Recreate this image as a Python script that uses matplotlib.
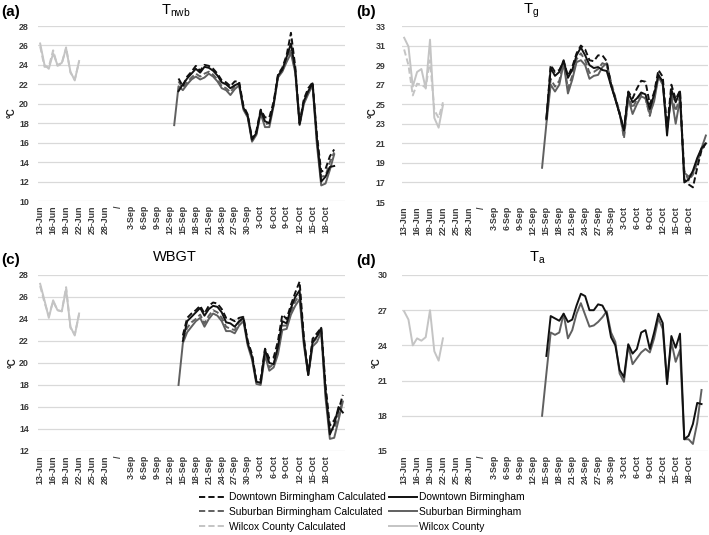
import matplotlib.pyplot as plt
import numpy as np
import pandas as pd

plt.rcParams['font.family'] = ['Liberation Sans', 'DejaVu Sans']
plt.rcParams['mathtext.default'] = 'regular'

# category axis: 13-Jun..30-Jun, a "/" break, 1-Sep..22-Oct
jun = pd.date_range('2019-06-13', '2019-06-30')
sep_oct = pd.date_range('2019-09-01', '2019-10-22')
days = [f'{d.day}-{d:%b}' for d in jun] + ['/'] + [f'{d.day}-{d:%b}' for d in sep_oct]

# ---- (a) Tnwb ----
a_wil = [26.2, 24.0, 23.6, 25.2, 24.0, 24.2, 25.7, 23.3, 22.4, 24.4]
a_wil_calc = [25.9, 23.8, 23.8, 25.5, 23.9, 24.1, 25.8, 23.2, 22.5, 24.3]
# from 13-Sep
a_dt = [None, 21.3, 22.0, 22.6, 23.1, 23.6, 23.2, 23.8, 23.7, 23.4, 22.9,
        22.2, 22.0, 21.6, 21.9, 22.1, 19.6, 18.8, 16.3, 17.0, 19.3,
        18.2, 18.0, 20.0, 22.9, 23.5, 24.8, 26.2, 23.5, 17.9, 20.3,
        21.3, 22.1, 16.5, 12.0, 12.5, 13.5, 13.6]
a_dt_calc = [None, 22.6, 21.8, 22.8, 23.3, 23.9, 23.4, 24.0, 23.9, 23.6, 23.1,
             22.4, 22.2, 21.8, 22.3, 22.3, 19.8, 18.9, 16.4, 17.2, 19.4,
             18.6, 18.6, 20.2, 23.0, 23.7, 25.0, 27.3, 23.8, 18.0, 20.5,
             21.6, 22.2, 16.8, 13.0, 13.3, 14.6, 15.3]
a_sub = [17.8, 21.8, 21.4, 22.0, 22.5, 22.8, 22.5, 22.7, 23.1, 22.8, 22.3,
         21.6, 21.4, 20.9, 21.5, 21.9, 19.4, 18.6, 16.1, 16.8, 19.0,
         17.6, 17.6, 19.8, 22.7, 23.3, 24.3, 25.2, 23.2, 17.8, 20.0,
         21.0, 21.9, 15.8, 11.6, 11.8, 13.2, 14.8]
a_sub_calc = [None, 22.3, 21.6, 22.2, 22.7, 23.1, 22.8, 23.1, 23.3, 23.0, 22.5,
              21.8, 21.6, 21.2, 21.8, 22.0, 19.5, 18.7, 16.2, 16.9, 19.1,
              17.9, 18.0, 19.9, 22.8, 23.4, 24.5, 25.6, 23.3, 17.9, 20.2,
              21.2, 22.0, 16.2, 12.5, 12.6, 14.0, 15.0]

# ---- (b) Tg ---- (Birmingham from 14-Sep)
b_wil = [31.8, 30.9, 26.8, 28.3, 28.6, 26.6, 31.6, 23.6, 22.6, 24.9]
b_wil_calc = [30.6, 29.0, 25.9, 27.1, 27.0, 26.7, 29.5, 24.4, 23.6, 25.2]
b_dt = [None, 23.5, 28.7, 27.9, 28.3, 29.5, 27.7, 28.5, 30.0, 30.8,
        30.0, 29.0, 28.7, 28.8, 28.5, 28.4, 26.9, 25.5, 24.0, 22.3,
        26.2, 25.2, 25.6, 26.2, 26.0, 24.5, 26.0, 28.0, 27.3, 21.8,
        26.5, 25.2, 26.3, 17.0, 17.3, 18.2, 19.5, 20.5, 21.0]
b_dt_calc = [None, 23.5, 29.0, 28.3, 28.5, 29.4, 27.9, 28.8, 30.2, 31.0,
             30.6, 29.5, 29.4, 30.0, 30.0, 29.4, 27.0, 25.6, 24.0, 22.5,
             26.3, 25.6, 26.6, 27.4, 27.3, 25.0, 26.2, 28.5, 27.8, 22.5,
             27.0, 25.5, 26.4, 17.3, 16.8, 16.5, 18.5, 20.3, 21.0]
b_sub = [18.5, 23.0, 27.0, 26.3, 27.0, 29.2, 26.1, 27.5, 29.3, 29.5,
         29.0, 27.6, 27.9, 28.0, 28.8, 29.2, 27.0, 25.5, 24.0, 21.8,
         25.6, 24.0, 25.0, 25.8, 25.6, 24.0, 25.3, 27.8, 27.0, 22.5,
         25.8, 23.0, 25.5, 18.0, 17.6, 18.0, 19.2, 20.5, 21.8]
b_sub_calc = [None, 23.3, 27.6, 26.8, 27.4, 29.3, 26.6, 27.9, 29.6, 30.2,
              29.5, 28.2, 28.3, 28.6, 29.2, 29.0, 27.3, 25.7, 24.2, 21.5,
              25.8, 24.6, 25.5, 26.0, 25.6, 23.8, 25.6, 28.0, 27.2, 22.6,
              26.0, 24.3, 25.8, 18.2, 17.2, 17.8, 19.0, 20.4, 20.8]

# ---- (c) WBGT ---- (Birmingham from 14-Sep)
c_wil = [27.2, 25.7, 24.1, 25.7, 24.8, 24.7, 26.7, 23.3, 22.5, 24.5]
c_wil_calc = [27.0, 25.5, 24.3, 25.6, 24.8, 24.7, 26.9, 23.2, 22.6, 24.4]
c_dt = [None, 22.0, 23.8, 24.2, 24.6, 25.0, 24.3, 24.9, 25.2, 25.1,
        24.6, 23.7, 23.6, 23.3, 23.8, 24.1, 21.8, 20.6, 18.3, 18.2,
        21.2, 20.0, 19.9, 21.5, 23.8, 23.6, 25.0, 26.0, 26.6, 22.0,
        18.9, 21.9, 22.4, 23.2, 17.5, 13.5, 14.4, 16.0, 15.5]
c_dt_calc = [None, 22.5, 24.1, 24.5, 24.8, 25.2, 24.5, 25.2, 25.5, 25.4,
             24.9, 24.1, 24.0, 23.8, 24.1, 24.2, 22.0, 20.8, 18.4, 18.5,
             21.3, 20.4, 20.5, 22.0, 24.4, 24.0, 25.3, 26.4, 27.4, 22.3,
             19.0, 22.2, 22.7, 23.2, 18.0, 14.3, 14.8, 15.7, 17.1]
c_sub = [18.0, 21.8, 22.8, 23.3, 23.8, 24.1, 23.3, 24.0, 24.5, 24.3,
         23.8, 22.9, 22.9, 22.7, 23.4, 23.8, 21.6, 20.3, 18.1, 18.0,
         20.7, 19.3, 19.6, 20.8, 23.0, 23.1, 24.4, 25.2, 25.8, 21.6,
         18.9, 21.5, 21.9, 22.8, 16.8, 13.1, 13.2, 14.8, 16.5]
c_sub_calc = [None, 22.2, 23.2, 23.7, 24.0, 24.4, 23.6, 24.3, 24.8, 24.6,
              24.1, 23.3, 23.1, 23.0, 23.7, 24.0, 21.9, 20.6, 18.3, 18.2,
              21.0, 19.6, 19.9, 21.2, 23.4, 23.4, 24.6, 25.6, 26.2, 21.8,
              19.0, 21.8, 22.3, 22.9, 17.2, 13.9, 14.0, 15.3, 16.6]

# ---- (d) Ta ---- (Birmingham from 14-Sep, measured only)
d_wil = [26.9, 26.2, 24.0, 24.6, 24.4, 24.7, 27.0, 23.5, 22.7, 24.6]
d_dt = [None, 23.1, 26.5, 26.3, 26.1, 26.7, 26.0, 26.2, 27.4, 28.4,
        28.2, 27.0, 27.0, 27.5, 27.4, 26.7, 24.7, 24.0, 21.9, 21.3,
        24.1, 23.3, 23.7, 25.1, 25.3, 23.7, 25.1, 26.7, 25.9, 20.7,
        24.8, 23.8, 25.0, 16.0, 16.3, 17.3, 19.1, 19.0]
d_sub = [18.0, 21.6, 25.1, 24.9, 25.1, 26.7, 24.6, 25.3, 26.7, 27.6,
         26.6, 25.6, 25.7, 26.0, 26.4, 26.9, 25.1, 24.3, 21.6, 20.9,
         24.0, 22.4, 22.9, 23.4, 23.7, 23.4, 24.6, 26.3, 25.4, 20.9,
         24.3, 22.6, 23.6, 16.0, 16.0, 15.6, 17.4, 20.2]

W, H = 709, 535
fig = plt.figure(figsize=(W / 100, H / 100), dpi=100)


def px(x, y):
    return x / W, 1 - y / H


def axes_px(x0, y0, x1, y1):
    return fig.add_axes([x0 / W, 1 - y1 / H, (x1 - x0) / W, (y1 - y0) / H])


dash = (0, (3.2, 1.6))
st = {
    'dt_calc': dict(color='#111111', ls=dash, lw=1.4),
    'dt': dict(color='#111111', lw=1.4),
    'sub_calc': dict(color='#606060', ls=dash, lw=1.4),
    'sub': dict(color='#606060', lw=1.4),
    'wil_calc': dict(color='#c4c4c4', ls=dash, lw=1.4),
    'wil': dict(color='#c4c4c4', lw=1.4),
}


def line(ax, start, vals, key):
    i0 = days.index(start)
    x = np.arange(i0, i0 + len(vals))
    y = np.array([np.nan if v is None else v for v in vals], dtype=float)
    return ax.plot(x, y, **st[key])[0]


def setup(ax, yticks, pad):
    ax.set_xlim(-0.5, len(days) - 0.5)
    ax.set_ylim(yticks[0], yticks[-1])
    ax.set_yticks(yticks)
    ax.set_xticks(range(0, 67, 3))
    ax.set_xticklabels(days[0:67:3], rotation=90)
    ax.tick_params(length=0, labelsize=6.4, labelcolor='#3a3a3a')
    ax.tick_params(axis='y', pad=pad)
    ax.tick_params(axis='x', pad=3)
    for lab in ax.get_xticklabels() + ax.get_yticklabels():
        lab.set_fontweight('bold')
    for s in ax.spines.values():
        s.set_visible(False)
    ax.yaxis.grid(True, color='#d9d9d9', lw=0.9)
    ax.set_axisbelow(True)


ax_a = axes_px(38, 26, 345, 201)
ax_b = axes_px(402, 26, 708, 202)
ax_c = axes_px(38, 275, 345, 451)
ax_d = axes_px(402, 275, 708, 451)

setup(ax_a, list(range(10, 29, 2)), 6.5)
setup(ax_b, list(range(15, 34, 2)), 12)
setup(ax_c, list(range(12, 29, 2)), 6.5)
setup(ax_d, list(range(15, 31, 3)), 10.5)

# (a)
line(ax_a, '13-Jun', a_wil, 'wil')
line(ax_a, '13-Jun', a_wil_calc, 'wil_calc')
line(ax_a, '13-Sep', a_sub, 'sub')
line(ax_a, '13-Sep', a_sub_calc, 'sub_calc')
line(ax_a, '13-Sep', a_dt, 'dt')
line(ax_a, '13-Sep', a_dt_calc, 'dt_calc')
# (b)
line(ax_b, '13-Jun', b_wil, 'wil')
line(ax_b, '13-Jun', b_wil_calc, 'wil_calc')
line(ax_b, '14-Sep', b_sub, 'sub')
line(ax_b, '14-Sep', b_sub_calc, 'sub_calc')
line(ax_b, '14-Sep', b_dt, 'dt')
line(ax_b, '14-Sep', b_dt_calc, 'dt_calc')
# (c)
line(ax_c, '13-Jun', c_wil, 'wil')
line(ax_c, '13-Jun', c_wil_calc, 'wil_calc')
line(ax_c, '14-Sep', c_sub, 'sub')
line(ax_c, '14-Sep', c_sub_calc, 'sub_calc')
line(ax_c, '14-Sep', c_dt, 'dt')
line(ax_c, '14-Sep', c_dt_calc, 'dt_calc')
# (d)
line(ax_d, '13-Jun', d_wil, 'wil')
line(ax_d, '14-Sep', d_sub, 'sub')
line(ax_d, '14-Sep', d_dt, 'dt')

# titles, panel letters, y labels
titles = [r'T$_{nwb}$', r'T$_{g}$', 'WBGT', r'T$_{a}$']
title_pos = [(176, 11), (531, 11), (175, 257), (537, 258)]
for t, (x, y) in zip(titles, title_pos):
    fig.text(*px(x, y), t, ha='center', va='center', fontsize=10.5)

letters = ['(a)', '(b)', '(c)', '(d)']
letter_pos = [(1, 12), (356, 12), (1, 260), (356, 261)]
for t, (x, y) in zip(letters, letter_pos):
    fig.text(*px(x, y), t, ha='left', va='center', fontsize=11, fontweight='bold')

ylab_pos = [(12, 113), (373, 113), (13, 363), (377, 363)]
for x, y in ylab_pos:
    fig.text(*px(x, y), '°C', ha='center', va='center', rotation=90,
             fontsize=7, fontweight='bold', color='#222222')

# legend
handles = [plt.Line2D([], [], **st[k]) for k in
           ['dt_calc', 'sub_calc', 'wil_calc', 'dt', 'sub', 'wil']]
labels = ['Downtown Birmingham Calculated', 'Suburban Birmingham Calculated',
          'Wilcox County Calculated', 'Downtown Birmingham',
          'Suburban Birmingham', 'Wilcox County']
fig.legend(handles, labels, ncol=2, loc='center', bbox_to_anchor=px(362, 512),
           frameon=False, fontsize=7.4, handlelength=2.7, handletextpad=0.2,
           columnspacing=0.3, labelspacing=0.45)

fig.savefig('out.png', dpi=100)
